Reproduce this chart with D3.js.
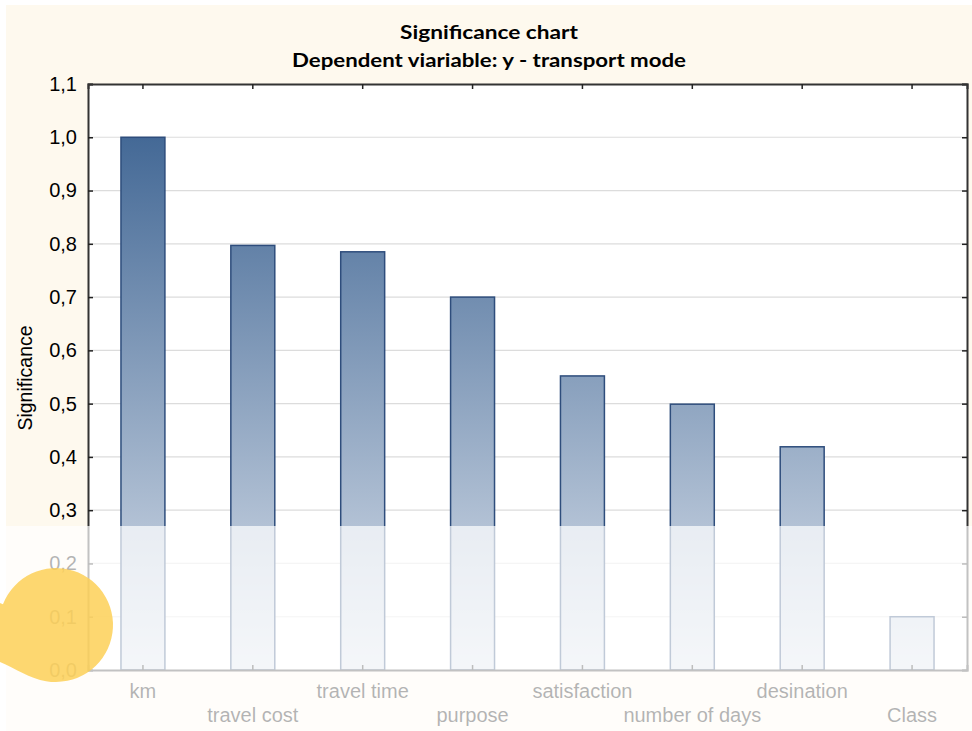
<!DOCTYPE html>
<html><head><meta charset="utf-8">
<script src="https://cdn.jsdelivr.net/npm/d3@7"></script>
<style>html,body{margin:0;padding:0;background:#fff;}svg{display:block;}</style>
</head><body>
<script>
const categories = ["km","travel cost","travel time","purpose","satisfaction","number of days","desination","Class"];
const values = [1.0, 0.797, 0.785, 0.700, 0.552, 0.499, 0.419, 0.100];
const yTicks = [0,0.1,0.2,0.3,0.4,0.5,0.6,0.7,0.8,0.9,1.0,1.1];
const titleLines = ["Significance chart","Dependent viariable: y - transport mode"];
const yLabel = "Significance";

const W = 972, H = 731;
const m = {left:88, right:5, top:84, bottom:61};
const svg = d3.select("body").append("svg").attr("width",W).attr("height",H);
const defs = svg.append("defs");

const x = d3.scaleBand().domain(categories).range([m.left, W-m.right]).paddingInner(0.6).paddingOuter(0.3);
const y = d3.scaleLinear().domain([0,1.1]).range([H-m.bottom, m.top]);

const grad = defs.append("linearGradient").attr("id","bg").attr("gradientUnits","userSpaceOnUse")
  .attr("x1",0).attr("x2",0).attr("y1",y(1.0)).attr("y2",y(0));
grad.append("stop").attr("offset",0).attr("stop-color","#446996");
grad.append("stop").attr("offset",1).attr("stop-color","#dbe2ec");

// background
svg.append("rect").attr("x",0).attr("y",0).attr("width",W).attr("height",H).attr("fill","#fff");
svg.append("rect").attr("x",6).attr("y",5).attr("width",W-6).attr("height",H-5).attr("fill","#fef9ee");
svg.append("rect").attr("x",m.left).attr("y",m.top).attr("width",W-m.right-m.left).attr("height",H-m.bottom-m.top).attr("fill","#fff");

// grid
svg.append("g").selectAll("line").data(yTicks.filter(d=>d>0&&d<1.1)).join("line")
  .attr("x1",m.left).attr("x2",W-m.right).attr("y1",d=>y(d)).attr("y2",d=>y(d))
  .attr("stroke","#dcdcdc").attr("stroke-width",1.2);

// bars
svg.append("g").selectAll("rect").data(categories).join("rect")
  .attr("x",d=>x(d)).attr("width",x.bandwidth())
  .attr("y",(d,i)=>y(values[i])).attr("height",(d,i)=>y(0)-y(values[i]))
  .attr("fill","url(#bg)").attr("stroke","#2e4d7c").attr("stroke-width",1.5);

// axes
const fmt = d => d3.format(".1f")(d).replace(".",",");
const yl = svg.append("g").attr("transform",`translate(${m.left},0)`)
  .call(d3.axisLeft(y).tickValues(yTicks).tickSize(-5).tickPadding(11).tickFormat(fmt));
const yr = svg.append("g").attr("transform",`translate(${W-m.right},0)`)
  .call(d3.axisRight(y).tickValues(yTicks).tickSize(-5).tickFormat(""));
const xb = svg.append("g").attr("transform",`translate(0,${H-m.bottom})`)
  .call(d3.axisBottom(x).tickSize(-5).tickFormat(""));
const xt = svg.append("g").attr("transform",`translate(0,${m.top})`)
  .call(d3.axisTop(x).tickSize(-5).tickFormat(""));
[yl,yr,xb,xt].forEach(g=>{
  g.select(".domain").attr("stroke","#333").attr("stroke-width",2);
  g.selectAll(".tick line").attr("stroke","#222").attr("stroke-width",1.5);
});
yl.selectAll(".tick text").attr("font-family","Liberation Sans, Arial, sans-serif").attr("font-size",20).attr("fill","#000");

// x labels (alternating rows)
svg.append("g").selectAll("text").data(categories).join("text")
  .attr("x",d=>x(d)+x.bandwidth()/2)
  .attr("y",(d,i)=> i%2===0 ? 698 : 722)
  .attr("text-anchor","middle")
  .attr("font-family","Liberation Sans, Arial, sans-serif").attr("font-size",20).attr("fill","#000")
  .text(d=>d);

// y label
svg.append("text").attr("transform","translate(32,378) rotate(-90)").attr("text-anchor","middle")
  .attr("font-family","Liberation Sans, Arial, sans-serif").attr("font-size",19.5).attr("fill","#000").text(yLabel);

// title
const titleWidths = [178, 394];
svg.append("g").selectAll("text").data(titleLines).join("text")
  .attr("x",489).attr("y",(d,i)=>39+i*28).attr("text-anchor","middle")
  .attr("font-family","Lato, Noto Sans, sans-serif").attr("font-weight","bold").attr("font-size",19.5).attr("fill","#000")
  .attr("textLength",(d,i)=>titleWidths[i]).attr("lengthAdjust","spacingAndGlyphs")
  .text(d=>d);

// bottom whitening overlay
svg.append("rect").attr("x",0).attr("y",526).attr("width",W).attr("height",H-526).attr("fill","#fff").attr("opacity",0.7);

// yellow highlight blob
const blob = d3.path();
blob.moveTo(0,603);
blob.arc(56,625,57,Math.atan2(-22,-56),Math.PI*100/180,false);
blob.bezierCurveTo(30,679,15,668,0,662);
blob.closePath();
svg.append("path").attr("d",blob.toString()).attr("fill","#fdcf55").attr("opacity",0.84);
</script>
</body></html>
